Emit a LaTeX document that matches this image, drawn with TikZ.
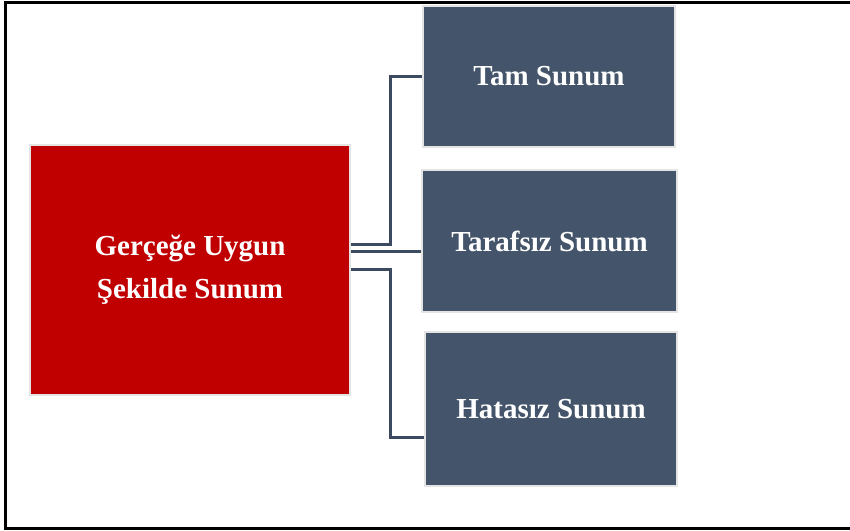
\documentclass[tikz,border=0pt]{standalone}
\usepackage{fontspec}
\setmainfont{Liberation Serif}
\definecolor{redbox}{HTML}{C00000}
\definecolor{slatebox}{HTML}{44546A}
\definecolor{edgegray}{HTML}{E4E4E4}
\definecolor{linkcol}{HTML}{3B4A5E}
\tikzset{
  box/.style={rectangle, draw=edgegray, line width=2pt, text=white, align=center,
    font=\fontsize{29}{43}\selectfont\bfseries, inner sep=0pt},
  redbox/.style={box, fill=redbox},
  bluebox/.style={box, fill=slatebox},
  link/.style={draw=linkcol, line width=3pt},
}
\begin{document}
\begin{tikzpicture}[x=1pt,y=-1pt]
\useasboundingbox (0,0) rectangle (850,530);
\fill[white] (0,0) rectangle (850,530);
\draw[line width=3pt] (5,2) rectangle (870,528);
\node[redbox, minimum width=320pt, minimum height=250pt] (red) at (190,270) {Gerçeğe Uygun\\Şekilde Sunum};
\node[bluebox, minimum width=252pt, minimum height=141pt] (tam) at (549,76.5) {Tam Sunum};
\node[bluebox, minimum width=255pt, minimum height=142pt] (taraf) at (549.5,241) {Tarafsız Sunum};
\node[bluebox, minimum width=252pt, minimum height=154pt] (hata) at (551,409) {Hatasız Sunum};
\coordinate (j1) at (390,244);
\coordinate (j2) at (390,269);
\coordinate (m) at (0,251);
\coordinate (h) at (0,437);
\draw[link] (red.east |- j1) -- (j1) |- (tam.west);
\draw[link] (red.east |- m) -- (taraf.west |- m);
\draw[link] (red.east |- j2) -- (j2) |- (hata.west |- h);
\end{tikzpicture}
\end{document}
